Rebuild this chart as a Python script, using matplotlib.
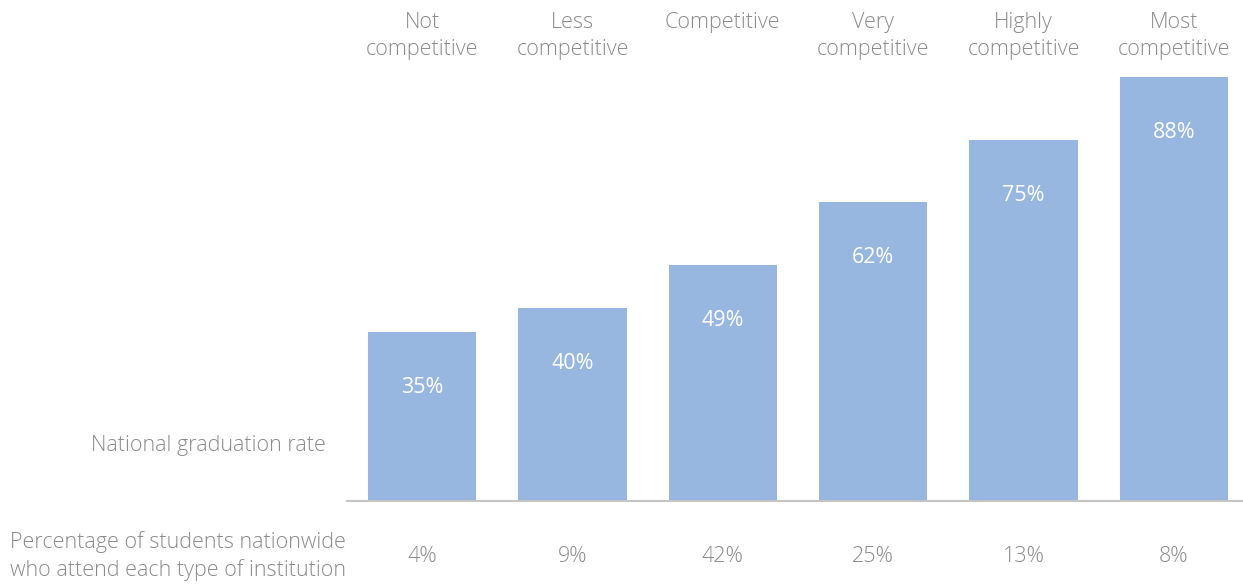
import matplotlib.pyplot as plt
from matplotlib import transforms

plt.rcParams['font.family'] = ['Open Sans', 'DejaVu Sans']

# Selectivity tiers, graduation rate and share of students
categories = ['Not\ncompetitive', 'Less\ncompetitive', 'Competitive',
              'Very\ncompetitive', 'Highly\ncompetitive', 'Most\ncompetitive']
grad_rate = [35, 40, 49, 62, 75, 88]
share = [4, 9, 42, 25, 13, 8]

BAR = '#97b7e0'
TXT = '#8a8a8a'
LINE = '#c4c4c4'
FS = 15.5

fig = plt.figure(figsize=(12.43, 5.88), dpi=100)
ax = fig.add_axes([347 / 1243, 87 / 588, 1 - 347 / 1243, 501 / 588])

x = list(range(len(categories)))
ax.bar(x, grad_rate, width=0.72, color=BAR, zorder=2)
ax.set_xlim(-0.5, 5.46)
ax.set_ylim(0, 104)

for s in ['top', 'right', 'left']:
    ax.spines[s].set_visible(False)
ax.spines['bottom'].set_color(LINE)
ax.spines['bottom'].set_linewidth(1.5)
ax.set_xticks([])
ax.set_yticks([])

# values inside bars
for xi, v in zip(x, grad_rate):
    ax.annotate('{}%'.format(v), (xi, v), xytext=(0, -40),
                textcoords='offset points', ha='center', va='center',
                color='white', fontsize=FS)

# category names above, share of students below
trans = transforms.blended_transform_factory(ax.transData, fig.transFigure)
for xi, c, s in zip(x, categories, share):
    ax.text(xi, 1 - 12 / 588, c, transform=trans, ha='center', va='top',
            color=TXT, fontsize=FS, fontweight='light', linespacing=1.4)
    ax.text(xi, 1 - 557 / 588, '{}%'.format(s), transform=trans,
            ha='center', va='center', color=TXT, fontsize=FS,
            fontweight='light')

fig.text(326 / 1243, 1 - 446 / 588, 'National graduation rate',
         ha='right', va='center', color=TXT, fontsize=FS, fontweight='light')
fig.text(346 / 1243, 1 - 556 / 588,
         'Percentage of students nationwide\nwho attend each type of institution',
         ha='right', va='center', multialignment='left', color=TXT,
         fontsize=FS, fontweight='light', linespacing=1.35)

fig.savefig('out.png', dpi=100)
